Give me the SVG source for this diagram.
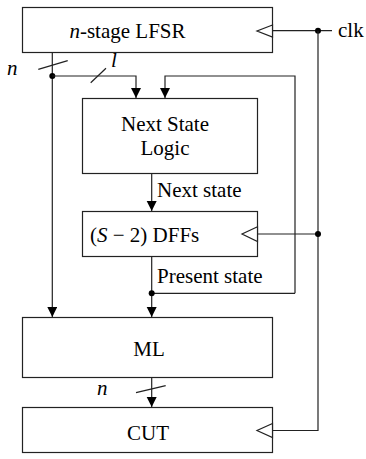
<svg xmlns="http://www.w3.org/2000/svg" width="366" height="459" viewBox="0 0 366 459">
<style>
.box{fill:#fff;stroke:#222;stroke-width:1.2}
.w{fill:none;stroke:#222;stroke-width:1.2}
.clk{fill:#fff;stroke:#222;stroke-width:1.2}
</style>
<defs>
<marker id="ah" markerWidth="11" markerHeight="11" refX="10" refY="5" orient="auto" markerUnits="userSpaceOnUse">
<path d="M0,0 L10,5 L0,10 Z" fill="#000"/>
</marker>
</defs>
<g font-family="Liberation Serif, Times New Roman, DejaVu Serif, serif" font-size="21" fill="#000">
<g id="lfsr">
<rect class="box" x="22.5" y="7.5" width="250" height="45"/>
<polygon class="clk" points="272.5,25 257,31 272.5,37"/>
<text x="127.5" y="38" text-anchor="middle"><tspan font-style="italic">n</tspan>-stage LFSR</text>
</g>
<g id="nsl">
<rect class="box" x="82.5" y="98.5" width="175" height="75"/>
<text x="165" y="131" text-anchor="middle">Next State</text>
<text x="165" y="155" text-anchor="middle">Logic</text>
</g>
<g id="dffs">
<rect class="box" x="82.5" y="211.5" width="175" height="45"/>
<polygon class="clk" points="257.5,226.7 242,234 257.5,241.5"/>
<text x="90" y="242"><tspan>(</tspan><tspan font-style="italic">S</tspan><tspan> − 2) DFFs</tspan></text>
</g>
<g id="ml">
<rect class="box" x="22.5" y="317.5" width="250" height="60"/>
<text x="149" y="356" text-anchor="middle">ML</text>
</g>
<g id="cut">
<rect class="box" x="22.5" y="407.5" width="250" height="45"/>
<polygon class="clk" points="272.5,423.5 257,430.5 272.5,437.5"/>
<text x="148" y="440" text-anchor="middle">CUT</text>
</g>
<g id="connectors">
<path class="w" d="M272.5,30.7 H332"/>
<circle cx="318" cy="30.7" r="3"/>
<path class="w" d="M318,30.7 V430.5 H272.5"/>
<path class="w" d="M318,234 H257.5"/>
<circle cx="318" cy="234" r="3"/>
<path class="w" d="M52.3,52.5 V317" marker-end="url(#ah)"/>
<path class="w" d="M38.3,69.3 L67.7,60.7"/>
<circle cx="52.3" cy="76" r="3"/>
<path class="w" d="M52.3,76 H136 V98" marker-end="url(#ah)"/>
<path class="w" d="M90.7,82.7 L106,68.3"/>
<path class="w" d="M295,293.3 V76 H165 V98" marker-end="url(#ah)"/>
<path class="w" d="M151.7,173.5 V211" marker-end="url(#ah)"/>
<path class="w" d="M151.7,256.5 V317" marker-end="url(#ah)"/>
<path class="w" d="M151.7,293.3 H295"/>
<circle cx="151.7" cy="293.3" r="3"/>
<path class="w" d="M151.7,377.5 V407" marker-end="url(#ah)"/>
<path class="w" d="M136,392.7 L165.7,385.7"/>
</g>
<g id="labels">
<text x="338" y="37">clk</text>
<text font-style="italic" x="7" y="75">n</text>
<text font-style="italic" x="111" y="67">l</text>
<text x="157" y="197">Next state</text>
<text x="157" y="283">Present state</text>
<text font-style="italic" x="97" y="395">n</text>
</g>
</g>
</svg>
